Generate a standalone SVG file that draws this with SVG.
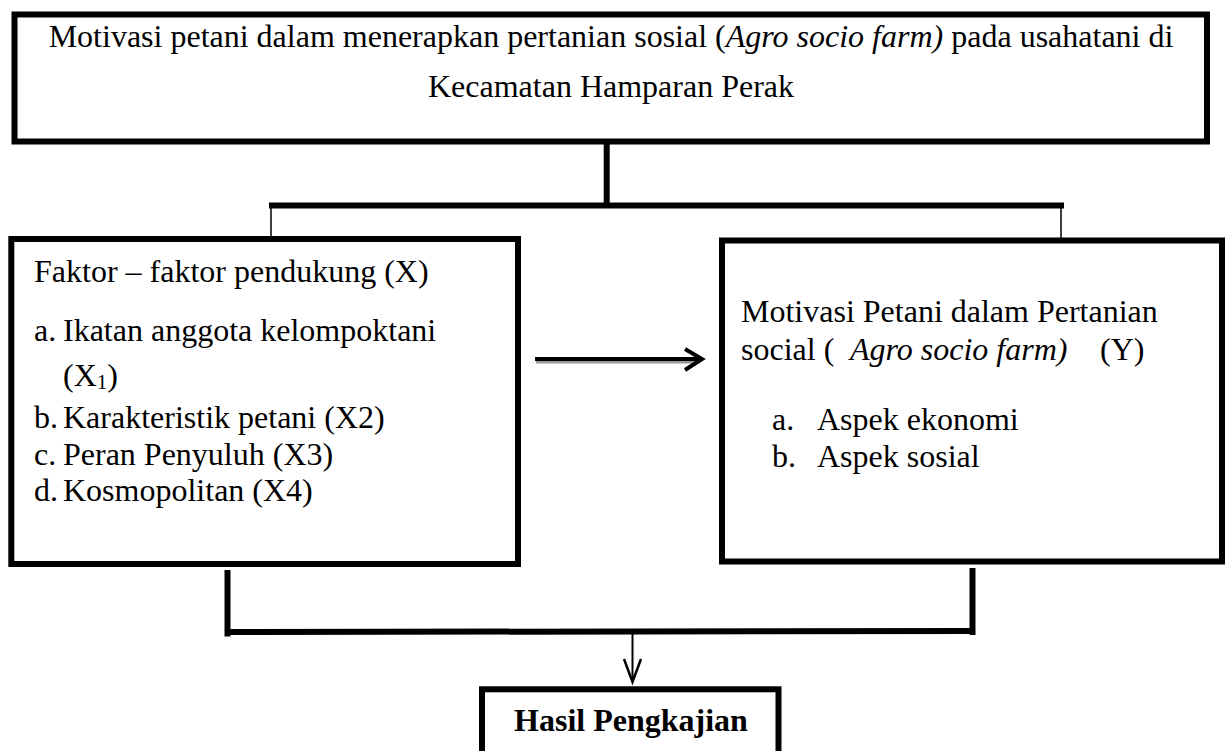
<svg xmlns="http://www.w3.org/2000/svg" width="1227" height="751" viewBox="0 0 1227 751">
<style>
.box{fill:#fff;stroke:#000;stroke-width:6}
.t{font-family:"Liberation Serif","Times New Roman",serif;font-size:32px;fill:#000}
.i{font-style:italic}
.c{fill:none;stroke:#000}
</style>
<rect width="1227" height="751" fill="#fff"/>
<g id="connectors">
<line class="c" x1="606.7" y1="144" x2="606.7" y2="203" stroke-width="6"/>
<line class="c" x1="269" y1="205.5" x2="1064" y2="205.5" stroke-width="6"/>
<line class="c" x1="271" y1="208" x2="271" y2="236" stroke-width="1.5"/>
<line class="c" x1="1061" y1="208" x2="1061" y2="238" stroke-width="1.5"/>
<line x1="536" y1="361.5" x2="700" y2="361.5" stroke="#999" stroke-width="4"/>
<line class="c" x1="535" y1="359" x2="701" y2="359" stroke-width="4"/>
<polyline class="c" points="685,349 702,359 685,370" stroke-width="4"/>
<line class="c" x1="227.5" y1="570" x2="227.5" y2="636.5" stroke-width="6"/>
<line class="c" x1="230" y1="632" x2="972.5" y2="631" stroke-width="6"/>
<line class="c" x1="972.5" y1="568" x2="972.5" y2="635" stroke-width="6"/>
<line class="c" x1="632.5" y1="634" x2="632.5" y2="681" stroke-width="2"/>
<polyline class="c" points="624,659 632.5,682 641,659" stroke-width="2.5"/>
</g>
<g id="top">
<rect class="box" x="14.5" y="14.5" width="1192.5" height="127"/>
<text class="t" x="611" y="47" text-anchor="middle">Motivasi petani dalam menerapkan pertanian sosial (<tspan class="i">Agro socio farm)</tspan> pada usahatani di</text>
<text class="t" x="611" y="97" text-anchor="middle">Kecamatan Hamparan Perak</text>
</g>
<g id="faktor">
<rect class="box" x="11.3" y="239" width="506.7" height="325"/>
<text class="t" x="34" y="282">Faktor – faktor pendukung (X)</text>
<text class="t" x="34" y="341">a.</text>
<text class="t" x="63" y="341">Ikatan anggota kelompoktani</text>
<text class="t" x="63" y="386">(X<tspan font-size="21" dy="3">1</tspan><tspan dy="-3">)</tspan></text>
<text class="t" x="34" y="428">b.</text>
<text class="t" x="63" y="428">Karakteristik petani (X2)</text>
<text class="t" x="34" y="465">c.</text>
<text class="t" x="63" y="465">Peran Penyuluh (X3)</text>
<text class="t" x="34" y="501">d.</text>
<text class="t" x="63" y="501">Kosmopolitan (X4)</text>
</g>
<g id="motivasi">
<rect class="box" x="722" y="240.5" width="500" height="321"/>
<text class="t" x="741" y="322">Motivasi Petani dalam Pertanian</text>
<text class="t" y="360"><tspan x="741">social (</tspan><tspan class="i" x="850">Agro socio farm)</tspan><tspan x="1100">(Y)</tspan></text>
<text class="t" x="772" y="430">a.</text>
<text class="t" x="817" y="430">Aspek ekonomi</text>
<text class="t" x="772" y="467">b.</text>
<text class="t" x="817" y="467">Aspek sosial</text>
</g>
<g id="hasil">
<rect class="box" x="482" y="689.3" width="296.5" height="80"/>
<text class="t" x="631" y="731" text-anchor="middle" font-weight="bold">Hasil Pengkajian</text>
</g>
</svg>
